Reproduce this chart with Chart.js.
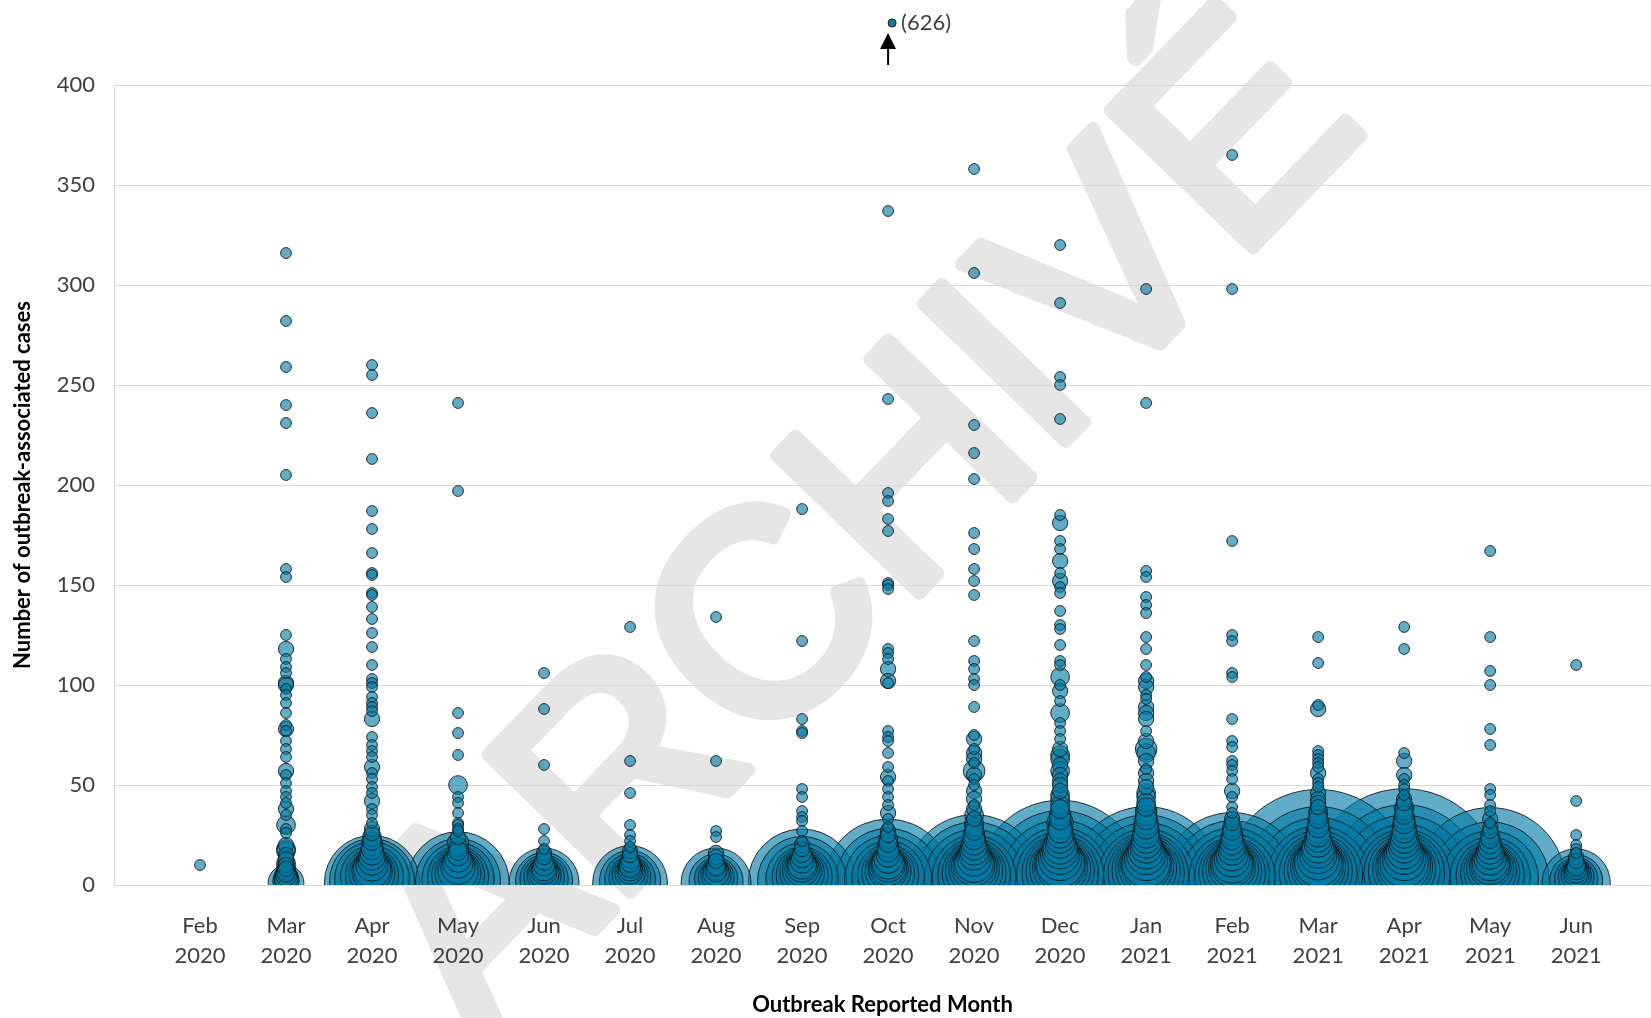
<!DOCTYPE html>
<html>
<head>
<meta charset="utf-8">
<script src="https://cdn.jsdelivr.net/npm/chart.js@4.4.0/dist/chart.umd.min.js"></script>
<style>
  html, body { margin: 0; padding: 0; background: #fff; overflow: hidden; }
</style>
</head>
<body>
<canvas id="grafico" width="1651" height="1018"></canvas>
<script>
const monthLabels = ["Feb 2020", "Mar 2020", "Apr 2020", "May 2020", "Jun 2020", "Jul 2020", "Aug 2020", "Sep 2020",
  "Oct 2020", "Nov 2020", "Dec 2020", "Jan 2021", "Feb 2021", "Mar 2021", "Apr 2021", "May 2021", "Jun 2021"];

// [cases in outbreak, number of outbreaks with that size]
const feb2020 = [[10, 1]];
const mar2020 = [[316,1],[282,1],[259,1],[240,1],[231,1],[205,1],[158,1],[154,1],[125,1],[118,2],[113,1],[109,1],[106,1],[101,2],[100,2],[98,1],[95,1],[91,1],[86,1],[80,1],[78,2],[77,1],[72,1],[68,1],[64,1],[57,2],[55,1],[51,1],[47,1],[44,1],[41,1],[38,2],[35,1],[30,3],[28,1],[26,1],[20,2],[18,3],[17,3],[15,2],[13,2],[11,3],[10,2],[9,3],[8,2],[7,3],[6,3],[5,4],[4,5],[3,5],[2,6],[1,11]];
const apr2020 = [[260,1],[255,1],[236,1],[213,1],[187,1],[178,1],[166,1],[156,1],[155,1],[146,1],[145,1],[139,1],[133,1],[126,1],[119,1],[110,1],[103,1],[101,1],[99,1],[94,1],[91,1],[89,1],[87,1],[83,2],[74,1],[70,1],[67,1],[64,1],[59,2],[56,1],[53,1],[49,1],[46,1],[42,2],[38,1],[35,1],[31,1],[28,2],[26,2],[24,3],[22,3],[20,4],[18,4],[16,5],[14,6],[12,7],[10,9],[8,12],[7,14],[6,18],[5,24],[4,34],[3,48],[2,62],[1,78]];
const may2020 = [[241,1],[197,1],[86,1],[76,1],[65,1],[50,3],[44,1],[41,1],[36,1],[31,1],[30,1],[28,1],[27,1],[24,2],[21,4],[19,3],[17,3],[15,4],[13,6],[11,8],[9,10],[7,14],[6,18],[5,24],[4,32],[3,45],[2,62],[1,90]];
const jun2020 = [[106,1],[88,1],[60,1],[28,1],[22,1],[18,1],[16,2],[14,2],[12,3],[10,4],[8,5],[7,6],[6,8],[5,10],[4,14],[3,20],[2,28],[1,42]];
const jul2020 = [[129,1],[62,1],[46,1],[30,1],[25,1],[22,1],[19,1],[17,2],[15,2],[13,3],[11,3],[10,4],[9,4],[8,5],[7,6],[6,8],[5,11],[4,15],[3,22],[2,32],[1,48]];
const aug2020 = [[134,1],[62,1],[27,1],[24,1],[16,2],[14,2],[12,2],[10,3],[9,3],[8,4],[7,4],[6,6],[5,8],[4,11],[3,16],[2,25],[1,42]];
const sep2020 = [[188,1],[122,1],[83,1],[77,1],[76,1],[48,1],[44,1],[37,1],[34,1],[32,1],[27,1],[22,1],[20,2],[18,2],[16,3],[14,4],[12,5],[10,7],[9,8],[8,10],[7,13],[6,17],[5,23],[4,31],[3,45],[2,68],[1,100]];
const oct2020 = [[337,1],[243,1],[196,1],[192,1],[183,1],[177,1],[151,1],[150,1],[148,1],[118,1],[116,1],[113,1],[108,2],[102,2],[101,1],[77,1],[74,1],[72,1],[66,1],[59,1],[54,2],[52,1],[48,1],[44,1],[40,1],[36,2],[33,1],[29,1],[27,2],[25,2],[23,3],[21,3],[19,4],[17,4],[15,5],[13,7],[11,9],[10,10],[9,12],[8,14],[7,18],[6,24],[5,32],[4,45],[3,65],[2,95],[1,140]];
const nov2020 = [[358,1],[306,1],[230,1],[216,1],[203,1],[176,1],[168,1],[158,1],[152,1],[145,1],[122,1],[112,1],[108,1],[103,1],[100,1],[89,1],[75,1],[73,2],[68,1],[66,2],[63,2],[61,1],[57,4],[55,2],[53,1],[50,1],[47,2],[43,2],[40,1],[38,2],[35,3],[33,2],[31,3],[29,3],[27,3],[25,4],[23,4],[21,5],[19,6],[17,7],[15,8],[13,10],[11,13],[10,15],[9,18],[8,22],[7,28],[6,35],[5,45],[4,60],[3,85],[2,120],[1,160]];
const dec2020 = [[320,1],[291,1],[254,1],[250,1],[233,1],[185,1],[181,2],[172,1],[168,1],[162,2],[156,1],[152,2],[149,1],[146,1],[137,1],[130,1],[128,1],[120,1],[112,1],[110,1],[104,3],[100,1],[97,2],[92,1],[86,3],[81,1],[77,1],[73,1],[68,2],[65,3],[63,3],[60,2],[57,3],[55,2],[52,2],[50,2],[47,2],[45,3],[43,3],[40,3],[38,3],[35,4],[33,4],[31,6],[29,5],[27,5],[25,6],[23,7],[21,8],[19,10],[17,11],[15,13],[13,16],[11,20],[10,22],[9,26],[8,32],[7,40],[6,50],[5,65],[4,85],[3,120],[2,170],[1,235]];
const jan2021 = [[298,1],[241,1],[157,1],[154,1],[144,1],[140,1],[136,1],[124,1],[118,1],[110,1],[104,1],[102,2],[99,2],[95,1],[93,1],[89,2],[86,2],[83,2],[77,1],[72,2],[68,4],[66,3],[62,2],[58,1],[56,2],[52,2],[49,2],[46,3],[44,3],[41,3],[39,3],[37,4],[35,4],[33,4],[31,5],[29,5],[27,6],[25,6],[23,7],[21,8],[19,9],[17,11],[15,13],[13,16],[11,20],[10,22],[9,26],[8,32],[7,40],[6,50],[5,62],[4,80],[3,110],[2,150],[1,200]];
const feb2021 = [[365,1],[298,1],[172,1],[125,1],[122,1],[106,1],[104,1],[83,1],[72,1],[69,1],[62,1],[60,1],[57,1],[53,1],[47,2],[44,1],[39,1],[36,1],[33,2],[31,2],[29,3],[27,3],[25,4],[23,4],[21,5],[19,6],[17,7],[15,9],[13,11],[11,14],[10,16],[9,19],[8,24],[7,30],[6,38],[5,48],[4,64],[3,90],[2,125],[1,170]];
const mar2021 = [[124,1],[111,1],[90,1],[88,2],[67,1],[65,1],[63,1],[61,1],[59,1],[56,2],[53,1],[51,1],[49,1],[46,2],[43,2],[41,2],[39,2],[37,3],[35,3],[33,3],[31,4],[29,4],[27,5],[25,5],[23,6],[21,7],[19,9],[17,10],[15,12],[13,15],[11,19],[10,22],[9,26],[8,32],[7,40],[6,52],[5,68],[4,90],[3,130],[2,190],[1,300]];
const apr2021 = [[129,1],[118,1],[66,1],[62,2],[55,2],[53,1],[50,1],[48,1],[45,1],[43,2],[41,2],[39,3],[37,3],[35,3],[33,4],[31,4],[29,5],[27,5],[25,6],[23,7],[21,8],[19,9],[17,11],[15,13],[13,16],[11,20],[10,24],[9,28],[8,34],[7,44],[6,56],[5,72],[4,96],[3,140],[2,200],[1,305]];
const may2021 = [[167,1],[124,1],[107,1],[100,1],[78,1],[70,1],[48,1],[45,1],[40,1],[37,1],[33,2],[31,1],[29,2],[27,2],[25,3],[23,3],[21,4],[19,5],[17,6],[15,7],[13,9],[11,11],[10,13],[9,15],[8,19],[7,24],[6,30],[5,40],[4,55],[3,80],[2,120],[1,195]];
const jun2021 = [[110,1],[42,1],[25,1],[20,1],[18,1],[16,1],[14,2],[12,2],[10,3],[9,3],[8,4],[7,5],[6,6],[5,8],[4,11],[3,16],[2,24],[1,40]];

// Oct 2020 outbreak beyond the axis, shown as a note above the plot
const octOutlier = 626;

const dadosMeses = [feb2020, mar2020, apr2020, may2020, jun2020, jul2020, aug2020, sep2020, oct2020,
  nov2020, dec2020, jan2021, feb2021, mar2021, apr2021, may2021, jun2021];

// bubble area proportional to number of outbreaks; biggest drawn first
const pontos = [];
dadosMeses.forEach((lista, i) => {
  lista.forEach(([casos, n]) => pontos.push({ x: i + 1, y: casos, r: 5.4 * Math.sqrt(n), n }));
});
pontos.sort((a, b) => b.n - a.n);

const marcaDagua = {
  id: "marcaDagua",
  beforeDraw(chart) {
    const ctx = chart.ctx;
    ctx.save();
    ctx.translate(868, 532);
    ctx.rotate(-46 * Math.PI / 180);
    ctx.font = '288px "Liberation Sans"';
    ctx.textAlign = "center";
    ctx.textBaseline = "middle";
    ctx.fillStyle = "#e6e6e6";
    ctx.strokeStyle = "#e6e6e6";
    ctx.lineWidth = 13;
    ctx.lineJoin = "round";
    ctx.fillText("ARCHIVÉ", 0, 0);
    ctx.strokeText("ARCHIVÉ", 0, 0);
    ctx.restore();
  }
};

const anotacao = {
  id: "anotacao",
  afterDraw(chart) {
    const { ctx, chartArea, scales } = chart;
    const px = scales.x.getPixelForValue(9);
    const topo = chartArea.top;
    ctx.save();
    // point
    ctx.beginPath();
    ctx.arc(px + 4, topo - 62, 4, 0, Math.PI * 2);
    ctx.fillStyle = "#0e7aa6";
    ctx.fill();
    ctx.lineWidth = 1;
    ctx.strokeStyle = "#1a1a1a";
    ctx.stroke();
    // label
    ctx.font = '22px Lato';
    ctx.fillStyle = "#404040";
    ctx.textBaseline = "middle";
    ctx.textAlign = "left";
    ctx.fillText("(" + octOutlier + ")", px + 13, topo - 62);
    // arrow
    ctx.strokeStyle = "#000";
    ctx.lineWidth = 2;
    ctx.beginPath();
    ctx.moveTo(px, topo - 20);
    ctx.lineTo(px, topo - 40);
    ctx.stroke();
    ctx.beginPath();
    ctx.moveTo(px, topo - 52);
    ctx.lineTo(px - 8, topo - 36);
    ctx.lineTo(px + 8, topo - 36);
    ctx.closePath();
    ctx.fillStyle = "#000";
    ctx.fill();
    ctx.restore();
  }
};

Chart.defaults.font.family = "Lato";

new Chart(document.getElementById("grafico"), {
  type: "bubble",
  data: {
    datasets: [{
      data: pontos,
      backgroundColor: "rgba(0,122,165,0.62)",
      borderColor: "rgba(20,20,20,0.85)",
      borderWidth: 1,
      clip: { left: false, top: false, right: false, bottom: 0 }
    }]
  },
  options: {
    responsive: false,
    animation: false,
    layout: { autoPadding: false, padding: { top: 85, right: 0, bottom: 0, left: 0 } },
    plugins: { legend: { display: false }, tooltip: { enabled: false } },
    scales: {
      x: {
        type: "linear",
        min: 0,
        max: 17.87,
        afterBuildTicks: s => { s.ticks = monthLabels.map((_, i) => ({ value: i + 1 })); },
        afterFit: s => { s.height = 133; },
        ticks: {
          callback: v => (monthLabels[v - 1] || "").split(" "),
          color: "#404040",
          font: { size: 22, lineHeight: 1.36 },
          padding: 26,
          maxRotation: 0,
          autoSkip: false
        },
        grid: { display: false, drawTicks: false },
        border: { display: false },
        title: {
          display: true,
          text: "Outbreak Reported Month",
          color: "#000",
          font: { size: 22, weight: "bold" },
          padding: { top: 0, bottom: 0 }
        }
      },
      y: {
        min: 0,
        max: 400,
        afterFit: s => { s.width = 114; },
        ticks: { stepSize: 50, color: "#404040", font: { size: 22 }, padding: 19 },
        grid: { color: "#d9d9d9", lineWidth: 1, drawTicks: false },
        border: { display: true, color: "#d9d9d9", width: 1 },
        title: {
          display: true,
          text: "Number of outbreak-associated cases",
          color: "#000",
          font: { size: 22, weight: "bold" },
          padding: { top: 10 }
        }
      }
    }
  },
  plugins: [marcaDagua, anotacao]
});
</script>
</body>
</html>
